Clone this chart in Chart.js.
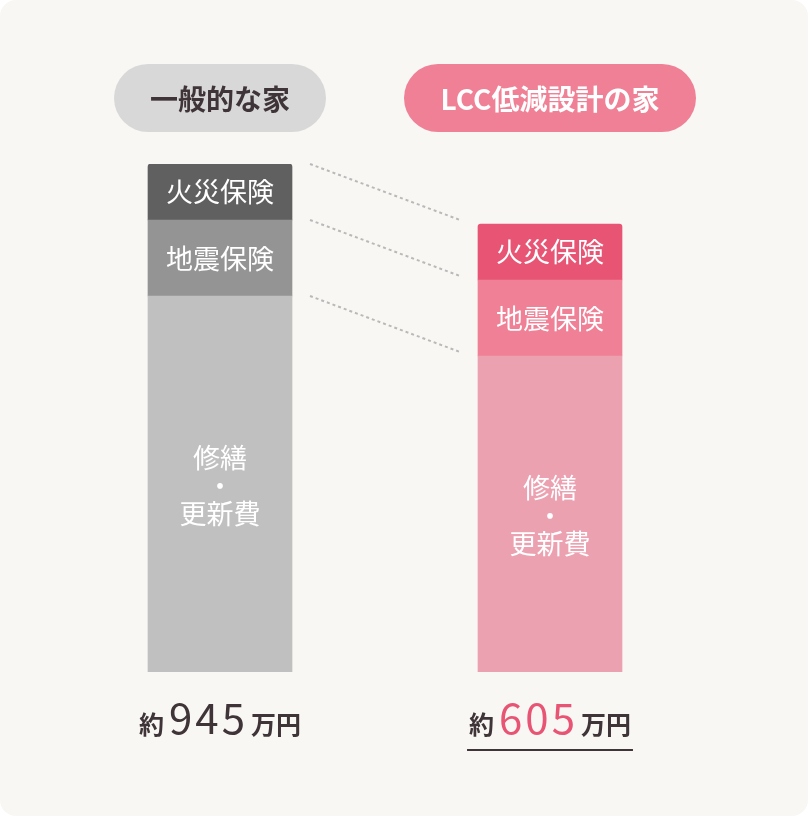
<!DOCTYPE html>
<html>
<head>
<meta charset="utf-8">
<script src="https://cdn.jsdelivr.net/npm/chart.js@4"></script>
<style>
  html, body { margin: 0; padding: 0; background: #ffffff; }
  #wrap { width: 808px; height: 816px; background: #f8f7f4; border-radius: 16px; overflow: hidden; }
</style>
</head>
<body>
<div id="wrap"><canvas id="lcc-chart" width="808" height="816"></canvas></div>
<script>
const houses = ['一般的な家', 'LCC低減設計の家'];
const segmentNames = ['修繕・更新費', '地震保険', '火災保険'];
// segment heights as drawn (illustrative units, not to scale of the totals)
const repairCost = [376, 316];
const quakeInsurance = [76, 76];
const fireInsurance = [56, 56];
const totals = [945, 605];

const greys = ['#c0c0c0', '#949494', '#606060'];
const pinks = ['#eca1b1', '#ef8095', '#e85574'];
const font = '"Noto Sans CJK JP", "Noto Sans", sans-serif';
const ink = '#3f3538';

const ctx = document.getElementById('lcc-chart');

const decorations = {
    id: 'decorations',
    afterDatasetsDraw(chart) {
        const c = chart.ctx;
        const metas = [0, 1, 2].map(i => chart.getDatasetMeta(i));
        c.save();

        // segment labels
        c.fillStyle = '#ffffff';
        c.textAlign = 'center';
        c.textBaseline = 'middle';
        c.font = '27px ' + font;
        for (let j = 0; j < houses.length; j++) {
            const fire = metas[2].data[j];
            const quake = metas[1].data[j];
            const repair = metas[0].data[j];
            c.fillText('火災保険', fire.x, (fire.y + fire.base) / 2);
            c.fillText('地震保険', quake.x, (quake.y + quake.base) / 2 + 1);
            const mid = (repair.y + repair.base) / 2;
            c.fillText('修繕', repair.x, mid - 26);
            c.fillText('・', repair.x, mid + 2);
            c.fillText('更新費', repair.x, mid + 30);
        }

        // dotted connectors between bars
        const l = metas[0].data[0], r = metas[0].data[1];
        const x0 = l.x + l.width / 2 + 18;
        const x1 = r.x - r.width / 2 - 18;
        c.strokeStyle = '#b9b9b9';
        c.lineWidth = 2;
        c.setLineDash([3, 3]);
        [metas[2], metas[1], metas[0]].forEach(m => {
            c.beginPath();
            c.moveTo(x0, m.data[0].y);
            c.lineTo(x1, m.data[1].y - 4);
            c.stroke();
        });
        c.setLineDash([]);

        // header pills
        const pills = [
            { w: 212, bg: '#d8d8d8', fg: ink },
            { w: 292, bg: '#ef8095', fg: '#ffffff' }
        ];
        for (let j = 0; j < houses.length; j++) {
            const cx = metas[0].data[j].x;
            const p = pills[j];
            c.fillStyle = p.bg;
            c.beginPath();
            c.roundRect(cx - p.w / 2, 64, p.w, 68, 34);
            c.fill();
            c.fillStyle = p.fg;
            c.font = 'bold 28px ' + font;
            c.textAlign = 'center';
            c.fillText(houses[j], cx, 99);
        }

        // totals under bars
        for (let j = 0; j < houses.length; j++) {
            const cx = metas[0].data[j].x;
            const parts = [
                { t: '約', f: 'bold 25px ' + font, col: ink, ls: '0px', gap: 5 },
                { t: String(totals[j]), f: '42px ' + font, col: j === 1 ? '#e85574' : ink, ls: '3px', gap: 3 },
                { t: '万円', f: 'bold 25px ' + font, col: ink, ls: '0px', gap: 0 }
            ];
            let w = 0;
            parts.forEach(p => {
                c.font = p.f;
                c.letterSpacing = p.ls;
                p.w = c.measureText(p.t).width;
                w += p.w + p.gap;
            });
            let x = cx - w / 2;
            c.textAlign = 'left';
            c.textBaseline = 'alphabetic';
            parts.forEach(p => {
                c.font = p.f;
                c.letterSpacing = p.ls;
                c.fillStyle = p.col;
                c.fillText(p.t, x, 734);
                x += p.w + p.gap;
            });
            c.letterSpacing = '0px';
            if (j === 1) {
                c.fillStyle = ink;
                c.fillRect(cx - w / 2 - 2, 749, w + 4, 2);
            }
        }
        c.restore();
    }
};

new Chart(ctx, {
    type: 'bar',
    data: {
        labels: houses,
        datasets: [
            { label: segmentNames[0], data: repairCost, backgroundColor: [greys[0], pinks[0]] },
            { label: segmentNames[1], data: quakeInsurance, backgroundColor: [greys[1], pinks[1]] },
            {
                label: segmentNames[2], data: fireInsurance, backgroundColor: [greys[2], pinks[2]],
                borderRadius: { topLeft: 3, topRight: 3, bottomLeft: 0, bottomRight: 0 },
                borderSkipped: false
            }
        ]
    },
    options: {
        responsive: false,
        animation: false,
        layout: { padding: { left: 55, right: 93, top: 164, bottom: 144 } },
        datasets: { bar: { barThickness: 144 } },
        plugins: { legend: false, tooltip: { enabled: false } },
        scales: {
            x: { stacked: true, display: false },
            y: { stacked: true, display: false, min: 0, max: 508 }
        }
    },
    plugins: [decorations]
});
</script>
</body>
</html>
